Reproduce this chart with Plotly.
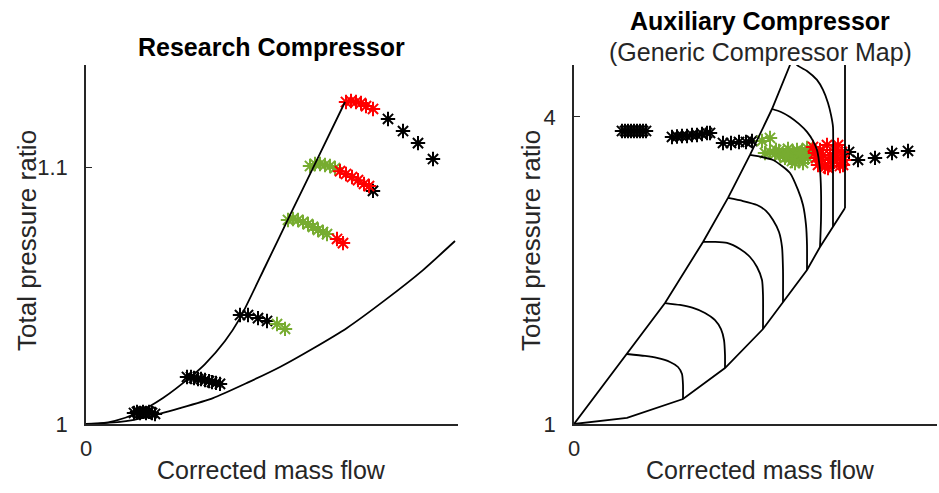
import plotly.graph_objects as go

# ---------------- Left: Research Compressor ----------------
surge_L_x = [0, 0.14, 0.29, 0.51, 0.77, 1.07, 1.19, 1.39, 1.54, 1.79, 2.04, 2.29, 2.59]
surge_L_y = [1.0, 1.0002, 1.0012, 1.0043, 1.0101, 1.0191, 1.0233, 1.0323, 1.0412, 1.0611, 1.0813, 1.1012, 1.1253]
choke_L_x = [0, 0.34, 0.61, 0.94, 1.27, 1.61, 1.94, 2.27, 2.61, 2.99, 3.37, 3.69]
choke_L_y = [1.0, 1.0008, 1.0027, 1.0062, 1.0101, 1.0160, 1.0222, 1.0294, 1.0374, 1.0482, 1.0599, 1.0712]

L_black_x = [0.48, 0.51, 0.54, 0.57, 0.60, 0.63, 0.66, 0.69,
             1.01, 1.05, 1.08, 1.12, 1.15, 1.19, 1.23, 1.26, 1.30, 1.34,
             1.54, 1.62, 1.72, 1.81,
             2.87,
             3.02, 3.17, 3.32, 3.47]
L_black_y = [1.0043, 1.0047, 1.0043, 1.0047, 1.0043, 1.0047, 1.0043, 1.0039,
             1.0183, 1.0183, 1.0179, 1.0175, 1.0175, 1.0171, 1.0167, 1.0163, 1.0160, 1.0156,
             1.0424, 1.0424, 1.0412, 1.0401,
             1.0907,
             1.1187, 1.1140, 1.1093, 1.1031]
L_green_x = [1.91, 1.99,
             2.02, 2.07, 2.12, 2.17, 2.22, 2.27, 2.32, 2.37, 2.41,
             2.24, 2.29, 2.34, 2.39, 2.44, 2.49]
L_green_y = [1.0389, 1.0370,
             1.0794, 1.0798, 1.0794, 1.0786, 1.0778, 1.0767, 1.0755, 1.0747, 1.0739,
             1.1004, 1.1012, 1.1012, 1.1008, 1.1004, 1.0996]
L_red_x = [2.51, 2.57,
           2.54, 2.60, 2.66, 2.72, 2.78, 2.83,
           2.60, 2.65, 2.70, 2.75, 2.80, 2.87]
L_red_y = [1.0720, 1.0704,
           1.0984, 1.0973, 1.0961, 1.0949, 1.0934, 1.0926,
           1.1253, 1.1257, 1.1253, 1.1249, 1.1237, 1.1226]

# ---------------- Right: Auxiliary Compressor map ----------------
surge_R_x = [0, 0.53, 0.91, 1.29, 1.54, 1.76, 1.98, 2.16, 2.23]
surge_R_y = [1.0, 1.684, 2.182, 2.779, 3.209, 3.629, 4.078, 4.508, 4.674]
choke_R_x = [0, 0.53, 1.09, 1.51, 1.89, 2.09, 2.33, 2.46, 2.59, 2.71]
choke_R_y = [1.0, 1.059, 1.244, 1.547, 1.928, 2.192, 2.505, 2.730, 2.925, 3.111]

speed_lines_x = [
    [0.53, 0.71, 0.83, 0.96, 1.04, 1.08, 1.09, 1.09],
    [0.91, 1.06, 1.19, 1.31, 1.41, 1.47, 1.50, 1.51, 1.51],
    [1.29, 1.41, 1.53, 1.66, 1.76, 1.83, 1.88, 1.89, 1.89],
    [1.54, 1.69, 1.83, 1.92, 1.99, 2.05, 2.08, 2.09, 2.09],
    [1.76, 1.88, 1.99, 2.08, 2.16, 2.24, 2.29, 2.32, 2.33, 2.33],
    [1.98, 2.07, 2.16, 2.25, 2.33, 2.39, 2.43, 2.46, 2.47, 2.47, 2.46],
    [2.197, 2.23, 2.33, 2.43, 2.49, 2.54, 2.57, 2.59, 2.59, 2.59, 2.59],
    [2.71, 2.71],
]
speed_lines_y = [
    [1.684, 1.665, 1.645, 1.606, 1.557, 1.489, 1.381, 1.244],
    [2.182, 2.163, 2.134, 2.085, 2.016, 1.928, 1.821, 1.674, 1.547],
    [2.779, 2.779, 2.769, 2.710, 2.632, 2.534, 2.407, 2.261, 1.928],
    [3.209, 3.179, 3.140, 3.082, 2.994, 2.876, 2.730, 2.505, 2.192],
    [3.629, 3.609, 3.580, 3.521, 3.453, 3.287, 3.140, 2.945, 2.749, 2.505],
    [4.078, 4.049, 4.000, 3.932, 3.854, 3.766, 3.678, 3.482, 3.287, 2.994, 2.730],
    [4.596, 4.508, 4.450, 4.362, 4.264, 4.137, 4.020, 3.902, 3.580, 3.287, 2.925],
    [3.111, 4.9],
]

R_black_x = [0.48, 0.51, 0.54, 0.57, 0.60, 0.63, 0.66, 0.69, 0.72,
             0.98, 1.03, 1.08, 1.13, 1.18, 1.23, 1.28, 1.33, 1.36,
             1.49, 1.57, 1.65, 1.72, 1.78,
             2.75, 2.84, 3.01, 3.18, 3.34]
R_black_y = [3.863] * 9 + \
            [3.805, 3.810, 3.814, 3.814, 3.824, 3.824, 3.834, 3.844, 3.844,
             3.746, 3.746, 3.756, 3.756, 3.766,
             3.658, 3.580, 3.600, 3.648, 3.668]
R_green_x = [1.88, 1.96,
             1.91, 1.96, 2.01, 2.05, 2.09, 2.13, 2.16, 2.19, 2.22, 2.25, 2.28, 2.31,
             2.33, 2.34, 2.23, 2.11, 2.06, 2.18, 2.26, 2.36, 2.02, 2.29, 2.14, 2.21]
R_green_y = [3.766, 3.795,
             3.648, 3.658, 3.639, 3.668, 3.629, 3.648, 3.600, 3.658, 3.619, 3.580, 3.668, 3.629,
             3.697, 3.600, 3.678, 3.600, 3.629, 3.570, 3.648, 3.658, 3.678, 3.551, 3.688, 3.551]
R_red_x = [2.39, 2.42, 2.44, 2.46, 2.48, 2.51, 2.53, 2.56, 2.58, 2.61,
           2.63, 2.66, 2.68, 2.70, 2.41, 2.54, 2.64, 2.49, 2.59, 2.69]
R_red_y = [3.707, 3.600, 3.531, 3.678, 3.580, 3.512, 3.726, 3.629, 3.551, 3.678,
           3.600, 3.521, 3.658, 3.580, 3.648, 3.502, 3.726, 3.629, 3.600, 3.531]

BLACK = "#000000"
GREEN = "#77AC30"
RED = "#FF0000"
AX = "#262626"
FONT = "Liberation Sans, Arial, Helvetica, sans-serif"

fig = go.Figure()


def stars(x, y, color, xa, ya):
    fig.add_trace(go.Scatter(
        x=x, y=y, mode="markers", xaxis=xa, yaxis=ya, showlegend=False,
        marker=dict(symbol="asterisk-open", size=12, color=color,
                    line=dict(color=color, width=2)),
    ))


def line(x, y, xa, ya):
    fig.add_trace(go.Scatter(
        x=x, y=y, mode="lines", xaxis=xa, yaxis=ya, showlegend=False,
        line=dict(color=BLACK, width=1.8, shape="spline", smoothing=0.6),
    ))


# left markers then lines
stars(L_black_x, L_black_y, BLACK, "x", "y")
stars(L_green_x, L_green_y, GREEN, "x", "y")
stars(L_red_x, L_red_y, RED, "x", "y")
line(surge_L_x, surge_L_y, "x", "y")
line(choke_L_x, choke_L_y, "x", "y")

# right markers then lines
stars(R_black_x, R_black_y, BLACK, "x2", "y2")
stars(R_green_x, R_green_y, GREEN, "x2", "y2")
stars(R_red_x, R_red_y, RED, "x2", "y2")
fig.add_trace(go.Scatter(x=surge_R_x, y=surge_R_y, mode="lines", xaxis="x2", yaxis="y2",
                         showlegend=False, line=dict(color=BLACK, width=1.8)))
fig.add_trace(go.Scatter(x=choke_R_x, y=choke_R_y, mode="lines", xaxis="x2", yaxis="y2",
                         showlegend=False, line=dict(color=BLACK, width=1.8)))
for sx, sy in zip(speed_lines_x, speed_lines_y):
    line(sx, sy, "x2", "y2")

W, H = 939, 493
def px(v):
    return v / W
def py(v):
    return 1 - v / H

axis_common = dict(showline=True, linecolor=AX, linewidth=1.5, showgrid=False, zeroline=False,
                   ticks="inside", ticklen=6, tickwidth=1.2, tickcolor=AX, automargin=False,
                   tickfont=dict(family=FONT, size=22, color=AX), mirror=False, fixedrange=True)

fig.update_layout(
    width=W, height=H, margin=dict(l=0, r=0, t=0, b=0, pad=0, autoexpand=False),
    paper_bgcolor="white", plot_bgcolor="white", showlegend=False,
    xaxis=dict(domain=[px(86), px(458)], range=[0, 3.72], tickvals=[0], ticktext=["0"],
               anchor="y", ticklabelstandoff=4, **axis_common),
    yaxis=dict(domain=[py(424), py(65)], range=[1, 1.1397], tickvals=[1, 1.1], ticktext=["1", "1.1"],
               anchor="x", ticklabelstandoff=12, **axis_common),
    xaxis2=dict(domain=[px(574), px(937)], range=[0, 3.63], tickvals=[0], ticktext=["0"],
                anchor="y2", ticklabelstandoff=4, **axis_common),
    yaxis2=dict(domain=[py(424), py(65)], range=[1, 4.508], tickvals=[1, 4], ticktext=["1", "4"],
                anchor="x2", ticklabelstandoff=12, **axis_common),
)

ann = []
def text(t, x, y, size=25, bold=False, angle=0):
    ann.append(dict(text=f"<b>{t}</b>" if bold else t, x=px(x), y=py(y), xref="paper", yref="paper",
                    showarrow=False, xanchor="center", yanchor="middle", textangle=angle,
                    font=dict(family=FONT, size=size, color="#000000" if bold else AX)))

text("Research Compressor", 271, 47, bold=True)
text("Auxiliary Compressor", 760, 21, bold=True)
text("(Generic Compressor Map)", 760, 52)
text("Corrected mass flow", 271, 470)
text("Corrected mass flow", 760, 470)
text("Total pressure ratio", 27, 241, size=26, angle=-90)
text("Total pressure ratio", 531, 241, size=26, angle=-90)
fig.update_layout(annotations=ann)

fig.write_html("out.html")
